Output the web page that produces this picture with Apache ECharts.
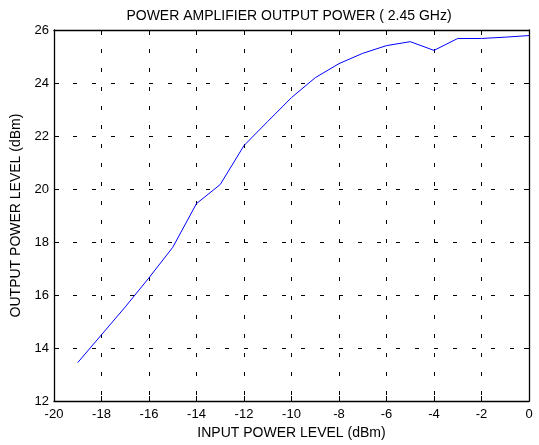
<!DOCTYPE html>
<html>
<head>
<meta charset="utf-8">
<script src="https://cdn.jsdelivr.net/npm/echarts@6/dist/echarts.min.js"></script>
<style>
html,body{margin:0;padding:0;background:#fff;}
#chart{width:539px;height:445px;}
</style>
</head>
<body>
<div id="chart"></div>
<script>
var inputPower = [-19, -18, -17, -16, -15, -14, -13, -12, -11, -10, -9, -8, -7, -6, -5, -4, -3, -2, -1, 0];
var outputPower = [13.45, 14.5, 15.55, 16.65, 17.8, 19.45, 20.17, 21.64, 22.55, 23.45, 24.2, 24.73, 25.12, 25.41, 25.56, 25.23, 25.68, 25.68, 25.73, 25.79];
var titleText = 'POWER AMPLIFIER OUTPUT POWER ( 2.45 GHz)';
var xName = 'INPUT POWER LEVEL (dBm)';
var yName = 'OUTPUT POWER LEVEL (dBm)';

var font = 'Liberation Sans, Arial, sans-serif';
var chart = echarts.init(document.getElementById('chart'), null, {renderer: 'canvas'});
var gridLine = {show: true, lineStyle: {color: '#000', width: 1, type: [4, 15]}};
var axisLineStyle = {show: true, onZero: false, lineStyle: {color: '#000', width: 1.3}};
var ticks = {show: true, inside: true, length: 5, lineStyle: {color: '#000', width: 1}};
var labelStyle = {color: '#000', fontFamily: font, fontSize: 13};

chart.setOption({
  animation: false,
  title: {
    text: titleText, left: 284, textAlign: 'center', top: 4,
    textStyle: {color: '#000', fontFamily: font, fontSize: 14, fontWeight: 'normal'}
  },
  grid: {left: 54, right: 10, top: 30, bottom: 42, containLabel: false},
  xAxis: [{
    type: 'value', min: -20, max: 0, interval: 2, position: 'bottom',
    name: xName, nameLocation: 'middle', nameGap: 25,
    nameTextStyle: {color: '#000', fontFamily: font, fontSize: 14},
    axisLine: axisLineStyle, axisTick: ticks,
    axisLabel: Object.assign({margin: 7}, labelStyle),
    splitLine: gridLine
  }, {
    type: 'value', min: -20, max: 0, interval: 2, position: 'top',
    axisLine: axisLineStyle, axisTick: ticks,
    axisLabel: {show: false}, splitLine: {show: false}
  }],
  yAxis: [{
    type: 'value', min: 12, max: 26, interval: 2, position: 'left',
    name: yName, nameLocation: 'middle', nameGap: 25,
    nameTextStyle: {color: '#000', fontFamily: font, fontSize: 14},
    axisLine: axisLineStyle, axisTick: ticks,
    axisLabel: Object.assign({margin: 5}, labelStyle),
    splitLine: gridLine
  }, {
    type: 'value', min: 12, max: 26, interval: 2, position: 'right',
    axisLine: axisLineStyle, axisTick: ticks,
    axisLabel: {show: false}, splitLine: {show: false}
  }],
  series: [{
    type: 'line',
    data: inputPower.map(function (x, i) { return [x, outputPower[i]]; }),
    showSymbol: false, symbol: 'none',
    lineStyle: {color: '#0000ff', width: 1},
    xAxisIndex: 0, yAxisIndex: 0
  }]
});
</script>
</body>
</html>
